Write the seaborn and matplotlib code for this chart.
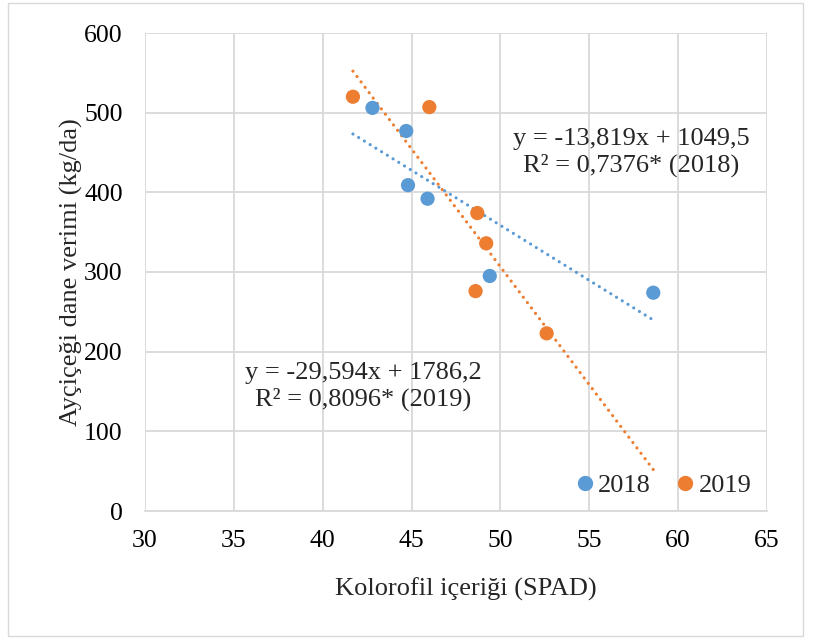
import numpy as np
import pandas as pd
import seaborn as sns
import matplotlib.pyplot as plt
from matplotlib.lines import Line2D
from matplotlib.patches import Rectangle

# SPAD readings and seed yield per year
spad_2018 = [42.8, 44.7, 44.8, 45.9, 49.4, 58.6]
yield_2018 = [506, 477, 409, 392, 295, 274]
spad_2019 = [41.7, 46.0, 48.7, 49.2, 48.6, 52.6]
yield_2019 = [520, 507, 374, 336, 276, 223]

# Linear trend coefficients (slope, intercept)
fit_2018 = (-13.819, 1049.5)
fit_2019 = (-29.594, 1786.2)

eq_2018 = ["y = -13,819x + 1049,5", "R² = 0,7376* (2018)"]
eq_2019 = ["y = -29,594x + 1786,2", "R² = 0,8096* (2019)"]

x_ticks = [30, 35, 40, 45, 50, 55, 60, 65]
y_ticks = [0, 100, 200, 300, 400, 500, 600]

BLUE = "#5B9BD5"
ORANGE = "#ED7D31"

df = pd.DataFrame({
    "spad": spad_2018 + spad_2019,
    "yield": yield_2018 + yield_2019,
    "year": ["2018"] * len(spad_2018) + ["2019"] * len(spad_2019),
})

sns.set_theme(style="white")
plt.rcParams["font.family"] = ["Liberation Serif", "DejaVu Serif"]

fig = plt.figure(figsize=(8.17, 6.42), dpi=100)
ax = fig.add_axes([145 / 817, 1 - 511 / 642, (767 - 145) / 817, (511 - 33) / 642])

# trend lines over the combined SPAD range
x_lo, x_hi = min(df["spad"]), max(df["spad"])
xs = np.array([x_lo, x_hi])
for (m, b), c in [(fit_2018, BLUE), (fit_2019, ORANGE)]:
    ax.plot(xs, m * xs + b, color=c, lw=2.3, linestyle=(0, (0.01, 2.1)),
            dash_capstyle="round", zorder=3)

sns.scatterplot(data=df, x="spad", y="yield", hue="year",
                palette={"2018": BLUE, "2019": ORANGE}, s=105,
                edgecolor="none", legend=False, ax=ax, zorder=4)

ax.set_xlim(30, 65)
ax.set_ylim(0, 600)
ax.set_xticks(x_ticks)
ax.set_yticks(y_ticks)
ax.grid(True, color="#d9d9d9", lw=1.3)
ax.set_axisbelow(True)
for s in ["top", "right", "left"]:
    ax.spines[s].set_visible(False)
ax.spines["bottom"].set_color("#d9d9d9")
ax.spines["bottom"].set_linewidth(1.3)
ax.tick_params(axis="both", length=0, labelsize=18.5, colors="black")
ax.tick_params(axis="y", pad=16)
ax.tick_params(axis="x", pad=14)

ax.set_xlabel("Kolorofil içeriği (SPAD)", fontsize=19, labelpad=18)
ax.xaxis.label.set_x((466 - 145) / 622)
ax.set_ylabel("Ayçiçeği dane verimi (kg/da)", fontsize=19, labelpad=1)

ax.text(57.38, 450, eq_2018[0] + "\n" + eq_2018[1], fontsize=19,
        ha="center", va="center", linespacing=1.2)
ax.text(42.27, 156, eq_2019[0] + "\n" + eq_2019[1], fontsize=19,
        ha="center", va="center", linespacing=1.2)

handles = [Line2D([], [], marker="o", ls="", color=BLUE, markersize=10),
           Line2D([], [], marker="o", ls="", color=ORANGE, markersize=10)]
ax.legend(handles, ["2018", "2019"], ncol=2, frameon=False, fontsize=19,
          loc="center right", bbox_to_anchor=(775 / 817, 1 - 485 / 642),
          bbox_transform=fig.transFigure, handletextpad=0.0,
          columnspacing=0.8, handlelength=1.0)

fig.patches.append(Rectangle((8 / 817, 1 - 636 / 642), 795 / 817, 633 / 642,
                             transform=fig.transFigure, fill=False,
                             edgecolor="#d9d9d9", lw=1.0))

fig.savefig("out.png", dpi=100, facecolor="white")
